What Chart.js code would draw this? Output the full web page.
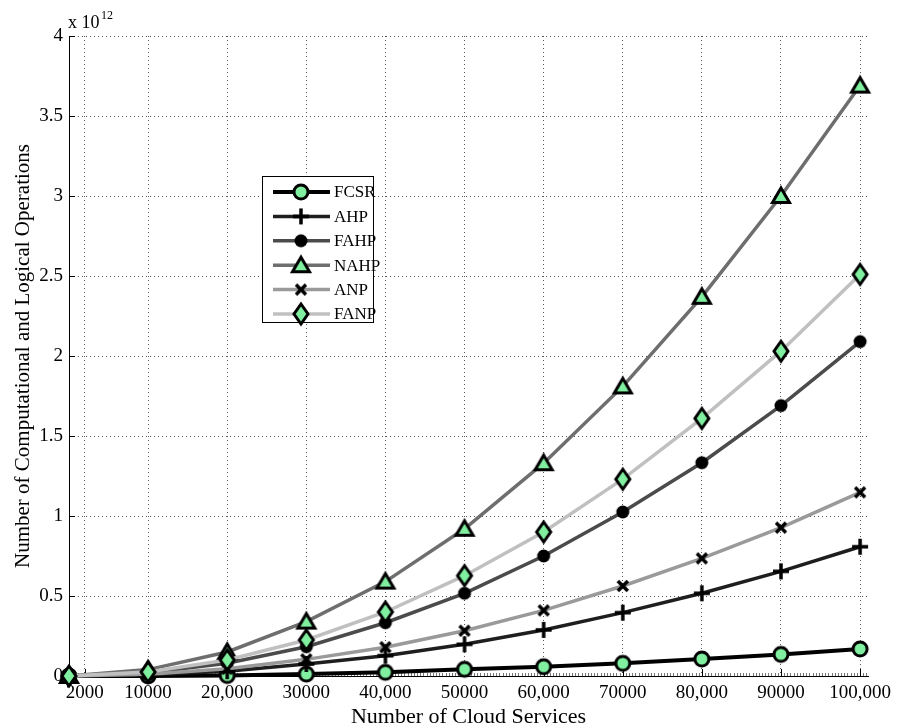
<!DOCTYPE html>
<html>
<head>
<meta charset="utf-8">
<script src="https://cdn.jsdelivr.net/npm/chart.js@4.4.1/dist/chart.umd.min.js"></script>
<style>
html,body{margin:0;padding:0;background:#fff;}
canvas{display:block;}
</style>
</head>
<body>
<canvas id="c" width="902" height="728"></canvas>
<script>
// ---- data (values in units of 10^12) ----
const xValues = [0, 10000, 20000, 30000, 40000, 50000, 60000, 70000, 80000, 90000, 100000];
const xTickValues = [2000, 10000, 20000, 30000, 40000, 50000, 60000, 70000, 80000, 90000, 100000];
const xTickLabels = ['2000', '10000', '20,000', '30000', '40,000', '50000', '60,000', '70000', '80,000', '90000', '100,000'];
const yTickLabels = ['0', '0.5', '1', '1.5', '2', '2.5', '3', '3.5', '4'];
const seriesNames = ['FCSR', 'AHP', 'FAHP', 'NAHP', 'ANP', 'FANP'];
const fcsr = [0, 0.0005, 0.003, 0.012, 0.023, 0.042, 0.058, 0.079, 0.106, 0.135, 0.169];
const ahp  = [0, 0.008, 0.03, 0.075, 0.127, 0.198, 0.288, 0.396, 0.517, 0.654, 0.808];
const fahp = [0, 0.02, 0.08, 0.183, 0.333, 0.517, 0.75, 1.025, 1.333, 1.69, 2.09];
const nahp = [0, 0.04, 0.15, 0.34, 0.59, 0.92, 1.33, 1.81, 2.37, 3.0, 3.69];
const anp  = [0, 0.011, 0.045, 0.104, 0.18, 0.283, 0.41, 0.5625, 0.735, 0.927, 1.148];
const fanp = [0, 0.025, 0.10, 0.225, 0.40, 0.627, 0.90, 1.23, 1.61, 2.03, 2.51];

// ---- styles ----
const GREEN = '#80f0a0';
const FONT = "'Liberation Serif', 'Times New Roman', serif";
const lineColors = ['#000000', '#1e1e1e', '#4b4b4b', '#6e6e6e', '#9a9a9a', '#c0c0c0'];
const lineWidths = [4, 3.5, 3.5, 3.5, 3.5, 3.5];

function makeMarker(kind) {
  const S = 30, c = S / 2;
  const cv = document.createElement('canvas');
  cv.width = S; cv.height = S;
  const g = cv.getContext('2d');
  g.lineJoin = 'miter';
  g.strokeStyle = '#000';
  g.fillStyle = GREEN;
  if (kind === 'circle') {
    g.lineWidth = 3;
    g.beginPath(); g.arc(c, c, 7, 0, Math.PI * 2); g.fill(); g.stroke();
  } else if (kind === 'plus') {
    g.lineWidth = 3.5;
    g.beginPath(); g.moveTo(c - 8, c); g.lineTo(c + 8, c); g.moveTo(c, c - 8); g.lineTo(c, c + 8); g.stroke();
  } else if (kind === 'dot') {
    g.fillStyle = '#000';
    g.beginPath(); g.arc(c, c, 6.5, 0, Math.PI * 2); g.fill();
  } else if (kind === 'triangle') {
    g.lineWidth = 3;
    g.beginPath(); g.moveTo(c, c - 8); g.lineTo(c + 8.5, c + 6.5); g.lineTo(c - 8.5, c + 6.5); g.closePath(); g.fill(); g.stroke();
  } else if (kind === 'x') {
    g.lineWidth = 3.5;
    g.beginPath(); g.moveTo(c - 5, c - 5); g.lineTo(c + 5, c + 5); g.moveTo(c + 5, c - 5); g.lineTo(c - 5, c + 5); g.stroke();
  } else if (kind === 'diamond') {
    g.lineWidth = 3;
    g.beginPath(); g.moveTo(c, c - 10); g.lineTo(c + 7, c); g.lineTo(c, c + 10); g.lineTo(c - 7, c); g.closePath(); g.fill(); g.stroke();
  }
  return cv;
}
const markers = ['circle', 'plus', 'dot', 'triangle', 'x', 'diamond'].map(makeMarker);
const seriesValues = [fcsr, ahp, fahp, nahp, anp, fanp];

const datasets = seriesNames.map((name, i) => ({
  label: name,
  data: xValues.map((x, k) => ({x: x, y: seriesValues[i][k]})),
  borderColor: lineColors[i],
  borderWidth: lineWidths[i],
  backgroundColor: lineColors[i],
  pointStyle: markers[i],
  pointRadius: 6,
  pointHoverRadius: 6,
  fill: false,
  tension: 0,
  clip: false,
  order: seriesNames.length - 1 - i
}));

const decor = {
  id: 'decor',
  beforeDatasetsDraw(chart) {
    const {ctx, chartArea: a, scales: {x, y}} = chart;
    ctx.save();
    ctx.lineWidth = 1;
    // minor ticks along x axis
    ctx.strokeStyle = '#777';
    ctx.beginPath();
    for (let v = 0; v <= 101000; v += 400) {
      const px = Math.round(x.getPixelForValue(v)) + 0.5;
      ctx.moveTo(px, a.bottom); ctx.lineTo(px, a.bottom - 3);
    }
    ctx.stroke();
    ctx.strokeStyle = '#000';
    ctx.beginPath();
    xTickValues.forEach(v => {
      const px = Math.round(x.getPixelForValue(v)) + 0.5;
      ctx.moveTo(px, a.bottom); ctx.lineTo(px, a.bottom - 7);
    });
    y.ticks.forEach(t => {
      const py = Math.round(y.getPixelForValue(t.value)) + 0.5;
      ctx.moveTo(a.left, py); ctx.lineTo(a.left + 6, py);
    });
    ctx.stroke();
    ctx.restore();
  },
  afterDraw(chart) {
    const {ctx, chartArea: a} = chart;
    ctx.save();
    // exponent label
    ctx.fillStyle = '#000';
    ctx.textBaseline = 'alphabetic';
    ctx.textAlign = 'left';
    ctx.font = '18px ' + FONT;
    ctx.fillText('x 10', a.left - 1, 28);
    ctx.font = '12px ' + FONT;
    ctx.fillText('12', a.left + 32, 19);
    // legend
    const bx = 262, by = 176, bw = 111, bh = 146;
    ctx.fillStyle = '#fff';
    ctx.fillRect(bx, by, bw, bh);
    ctx.strokeStyle = '#000';
    ctx.lineWidth = 1;
    ctx.strokeRect(bx + 0.5, by + 0.5, bw, bh);
    ctx.font = '17px ' + FONT;
    ctx.textBaseline = 'middle';
    seriesNames.forEach((name, i) => {
      const yy = 192 + i * 24.4;
      ctx.strokeStyle = lineColors[i];
      ctx.lineWidth = lineWidths[i];
      ctx.beginPath(); ctx.moveTo(273, yy); ctx.lineTo(330, yy); ctx.stroke();
      const m = markers[i];
      ctx.drawImage(m, 301 - m.width / 2, yy - m.height / 2);
      ctx.fillStyle = '#000';
      ctx.fillText(name, 334, yy + 1);
    });
    ctx.restore();
  }
};

new Chart(document.getElementById('c'), {
  type: 'line',
  data: {datasets},
  options: {
    responsive: false,
    animation: false,
    devicePixelRatio: 1,
    layout: {padding: {top: 36, right: 34, bottom: 0, left: 0}},
    plugins: {legend: {display: false}, tooltip: {enabled: false}},
    scales: {
      x: {
        type: 'linear',
        min: 0,
        max: 101000,
        afterFit(s) { s.height = 52; },
        afterBuildTicks(s) { s.ticks = xTickValues.map(v => ({value: v})); },
        ticks: {
          autoSkip: false, maxRotation: 0, minRotation: 0, padding: 6,
          color: '#000', font: {family: FONT, size: 19},
          callback: (v, i) => xTickLabels[i]
        },
        grid: {display: true, drawTicks: false, color: '#555', lineWidth: 1},
        border: {display: true, color: '#000', width: 1, dash: [1, 3]},
        title: {display: true, text: 'Number of Cloud Services', color: '#000',
                font: {family: FONT, size: 22, lineHeight: 1.0}, padding: {top: 0, bottom: 0}}
      },
      y: {
        type: 'linear',
        min: 0,
        max: 4,
        afterFit(s) { s.width = 69; },
        ticks: {
          stepSize: 0.5, padding: 6, color: '#000', font: {family: FONT, size: 19},
          callback: (v, i) => yTickLabels[i]
        },
        grid: {display: true, drawTicks: false, color: '#555', lineWidth: 1},
        border: {display: true, color: '#000', width: 1, dash: [1, 3]},
        title: {display: true, text: 'Number of Computational and Logical Operations', color: '#000',
                font: {family: FONT, size: 21, lineHeight: 1.2}, padding: {top: 11, bottom: 0}}
      }
    }
  },
  plugins: [decor]
});
</script>
</body>
</html>
